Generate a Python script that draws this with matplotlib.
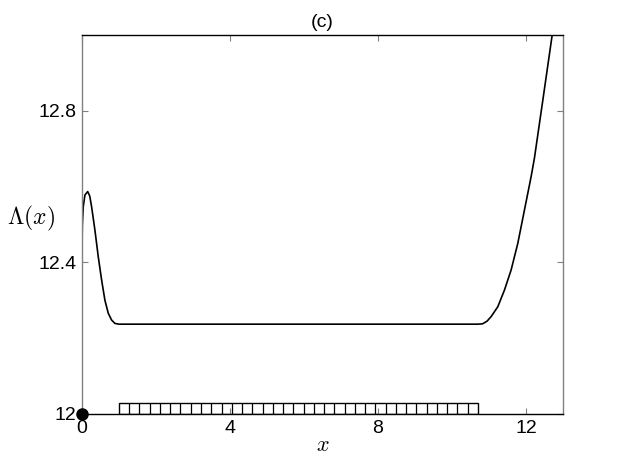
import matplotlib
matplotlib.use("Agg")
import matplotlib.pyplot as plt
import numpy as np
from matplotlib.patches import Rectangle

plt.rcParams['font.family'] = ['Liberation Sans', 'DejaVu Sans']
plt.rcParams['mathtext.fontset'] = 'cm'

# curve Lambda(x)
x_vals = [0.0, 0.01, 0.035, 0.08, 0.155, 0.21, 0.26, 0.35, 0.44, 0.53, 0.62, 0.71,
          0.8, 0.89, 1.0, 2.0, 4.0, 6.0, 8.0, 10.0, 10.7, 10.83, 10.95, 11.06, 11.24,
          11.42, 11.6, 11.78, 11.96, 12.14, 12.23, 12.46, 12.71, 12.8]
lam_vals = [12.433, 12.50, 12.547, 12.578, 12.587, 12.575, 12.547, 12.485, 12.415,
            12.354, 12.30, 12.266, 12.248, 12.239, 12.237, 12.237, 12.237, 12.237,
            12.237, 12.237, 12.237, 12.238, 12.245, 12.257, 12.283, 12.327, 12.38,
            12.45, 12.538, 12.626, 12.675, 12.83, 13.0, 13.06]

# hatched strip
strip_start = 1.0
strip_end = 10.7
strip_height = 0.028
n_cells = 35

dot_x, dot_y = 0.0, 12.0

xticks = [0, 4, 8, 12]
yticks = [12, 12.4, 12.8]
ytick_labels = ['12', '12.4', '12.8']

fig = plt.figure(figsize=(6.22, 4.68), dpi=100)
ax = fig.add_axes([0.1318, 0.1154, 0.7732, 0.8098])

ax.plot(x_vals, lam_vals, color='black', lw=1.2)

# strip with vertical hatching
ax.add_patch(Rectangle((strip_start, 12.0), strip_end - strip_start, strip_height,
                       facecolor='white', edgecolor='black', lw=1.0))
edges = np.linspace(strip_start, strip_end, n_cells + 1)[1:-1]
ax.vlines(edges, 12.0, 12.0 + strip_height, color='black', lw=0.9)

ax.plot([dot_x], [dot_y], 'o', color='black', ms=8, clip_on=False, zorder=5)

ax.set_xlim(0, 13)
ax.set_ylim(12, 13)
ax.set_xticks(xticks)
ax.set_yticks(yticks)
ax.set_yticklabels(ytick_labels)
ax.tick_params(direction='in', length=4, labelsize=14, top=True, right=True,
               color='#808080', pad=4)
for side in ['left', 'right']:
    ax.spines[side].set_color('#808080')
for spine in ax.spines.values():
    spine.set_linewidth(1.0)

ax.set_title('(c)', fontsize=14, pad=6)
ax.set_xlabel('$x$', fontsize=16, labelpad=-1)
ax.set_ylabel(r'$\Lambda(x)$', fontsize=17, rotation=0)
ax.yaxis.label.set_va('center')
ax.yaxis.set_label_coords(-0.106, 0.517)

fig.savefig('out.png', dpi=100)
